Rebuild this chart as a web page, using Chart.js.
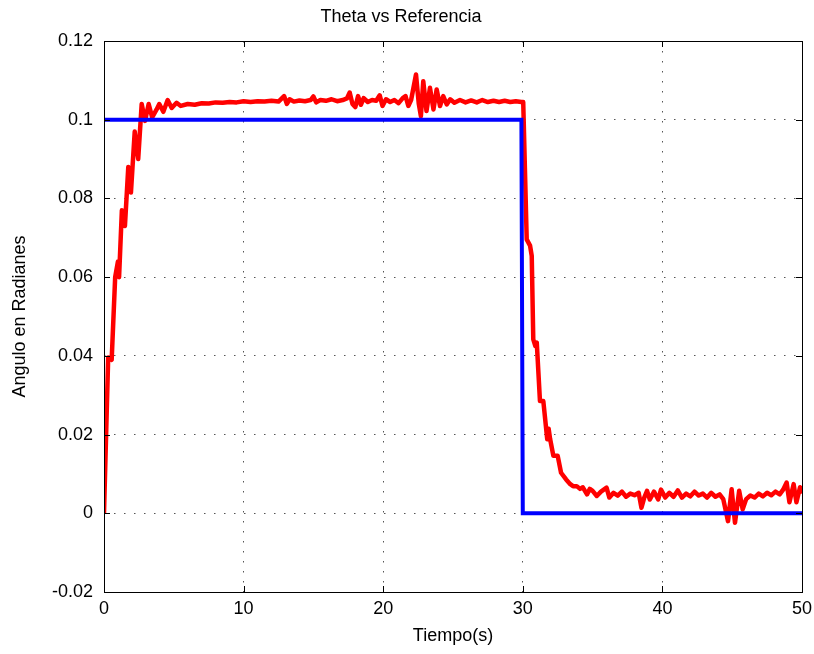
<!DOCTYPE html>
<html lang="es">
<head>
<meta charset="UTF-8">
<title>Theta vs Referencia</title>
<script src="https://cdn.jsdelivr.net/npm/chart.js"></script>
<style>
  body { margin: 0; background: #fff; }
  #wrap { width: 814px; height: 654px; }
</style>
</head>
<body>
<div id="wrap"><canvas id="chart" width="814" height="654"></canvas></div>
<script>
// reference step (blue)
const refTime = [0, 29.9, 30.0, 50];
const refValue = [0.1, 0.1, 0, 0];

const thetaTime = [
  0, 0.3, 0.55, 0.8, 1.0, 1.08, 1.28, 1.5, 1.74, 1.93, 2.2, 2.45, 2.7, 2.94, 3.2, 3.45, 3.77, 3.96, 4.25, 4.56, 4.85, 5.2,
  5.5, 6.0, 6.5, 7.0, 7.5, 8.0, 8.5, 9.0, 9.5, 10.0, 10.5, 11.0, 11.5, 12.0, 12.5, 12.9, 13.1, 13.3, 13.6, 14.0, 14.4, 14.8,
  15.0, 15.2, 15.5, 15.9, 16.3, 16.7, 17.1, 17.4, 17.6, 17.8, 18.0, 18.2, 18.4, 18.6, 18.9, 19.2, 19.5, 19.75, 19.95,
  20.2, 20.5, 20.8, 21.1, 21.4, 21.6, 21.8, 22.0, 22.35, 22.55, 22.7, 22.87, 23.1, 23.35, 23.6, 23.83, 24.07, 24.3, 24.55,
  24.8, 25.1, 25.5, 25.9, 26.3, 26.7, 27.1, 27.5, 27.9, 28.3, 28.7, 29.1, 29.5, 29.9, 30.03,
  30.28, 30.52, 30.64, 30.75, 30.9, 31.0, 31.23, 31.47, 31.75, 31.85, 31.95, 32.19, 32.5, 32.74, 33.1, 33.4, 33.6, 33.86,
  34.1, 34.3, 34.6, 34.8, 35.0, 35.3, 35.6, 36.0, 36.2, 36.5, 36.8, 37.1, 37.4, 37.7, 38.0, 38.3, 38.5, 38.7, 38.9, 39.1,
  39.4, 39.7, 39.9, 40.2, 40.5, 40.8, 41.1, 41.4, 41.7, 42.0, 42.3, 42.6, 42.9, 43.2, 43.5, 43.8, 44.1, 44.36, 44.7, 44.96,
  45.2, 45.5, 45.75, 46.0, 46.3, 46.6, 46.9, 47.2, 47.5, 47.8, 48.1, 48.4, 48.65, 48.9, 49.1, 49.4, 49.6, 49.86, 50.0
];
const thetaValue = [
  0, 0.0396, 0.039, 0.060, 0.064, 0.060, 0.077, 0.073, 0.088, 0.0815, 0.097, 0.090, 0.104, 0.0997, 0.104, 0.1006, 0.1026, 0.104, 0.102, 0.105, 0.103, 0.1043,
  0.1035, 0.1040, 0.1038, 0.1042, 0.1041, 0.1044, 0.1043, 0.1045, 0.1044, 0.1047, 0.1045, 0.1047, 0.1046, 0.1048, 0.1046, 0.1060, 0.1040, 0.1052, 0.1046, 0.1049, 0.1047, 0.1050,
  0.1059, 0.1044, 0.1050, 0.1048, 0.1052, 0.1047, 0.1050, 0.1054, 0.1069, 0.1040, 0.1032, 0.1060, 0.1038, 0.1055, 0.1045, 0.1050, 0.1048, 0.1062, 0.1035,
  0.1052, 0.1045, 0.1050, 0.1042, 0.1055, 0.1060, 0.1035, 0.1050, 0.1115, 0.1040, 0.1009, 0.1098, 0.1022, 0.1081, 0.1026, 0.1077, 0.1035, 0.1060, 0.1039,
  0.1052, 0.1043, 0.1050, 0.1044, 0.1049, 0.1044, 0.1050, 0.1045, 0.1048, 0.1045, 0.1048, 0.1045, 0.1047, 0.1045, 0.1045,
  0.0696, 0.068, 0.0654, 0.0442, 0.0425, 0.0434, 0.0285, 0.0285, 0.0188, 0.0215, 0.019, 0.0146, 0.0146, 0.0103, 0.0086, 0.0074, 0.0069, 0.0069,
  0.0062, 0.0066, 0.0048, 0.0062, 0.0057, 0.0044, 0.0055, 0.0065, 0.0040, 0.0052, 0.0045, 0.0055, 0.0042, 0.0050, 0.0046, 0.0052, 0.0014, 0.0040, 0.0057, 0.0035,
  0.0055, 0.0035, 0.0060, 0.0040, 0.0052, 0.0042, 0.0058, 0.0040, 0.0050, 0.0043, 0.0055, 0.0045, 0.0050, 0.0040, 0.0052, 0.0042, 0.0048, 0.0036, -0.0020, 0.0061,
  -0.0024, 0.0057, 0.0010, 0.0036, 0.0045, 0.0040, 0.0050, 0.0043, 0.0052, 0.0046, 0.0055, 0.0048, 0.0060, 0.0078, 0.0028, 0.0074, 0.0028, 0.0066, 0.0050
];

const xTicks = [0, 10, 20, 30, 40, 50];
const yTicks = [-0.02, 0, 0.02, 0.04, 0.06, 0.08, 0.1, 0.12];

const FONT = "'Liberation Sans', Arial, Helvetica, sans-serif";

const toPoints = (xs, ys) => xs.map((x, i) => ({ x: x, y: ys[i] }));

// MATLAB-like box with small inward ticks on all four sides
const boxPlugin = {
  id: 'box',
  afterDraw(chart) {
    const { ctx, chartArea: a, scales } = chart;
    ctx.save();
    ctx.strokeStyle = '#000';
    ctx.lineWidth = 1;
    ctx.strokeRect(a.left + 0.5, a.top + 0.5, a.right - a.left, a.bottom - a.top);
    ctx.beginPath();
    xTicks.forEach(v => {
      const px = Math.round(scales.x.getPixelForValue(v)) + 0.5;
      ctx.moveTo(px, a.top); ctx.lineTo(px, a.top + 6);
      ctx.moveTo(px, a.bottom); ctx.lineTo(px, a.bottom - 6);
    });
    yTicks.forEach(v => {
      const py = Math.round(scales.y.getPixelForValue(v)) + 0.5;
      ctx.moveTo(a.left, py); ctx.lineTo(a.left + 6, py);
      ctx.moveTo(a.right, py); ctx.lineTo(a.right - 6, py);
    });
    ctx.stroke();
    ctx.restore();
  }
};

const chart = new Chart(document.getElementById('chart'), {
  type: 'scatter',
  data: {
    datasets: [
      // first dataset is drawn last, so the reference sits on top like in the original
      { label: 'Referencia', data: toPoints(refTime, refValue), showLine: true, borderColor: '#0000ff', borderWidth: 4, pointRadius: 0, tension: 0 },
      { label: 'Theta', data: toPoints(thetaTime, thetaValue), showLine: true, borderColor: '#ff0000', borderWidth: 4.5, pointRadius: 0, tension: 0, borderJoinStyle: 'round' }
    ]
  },
  options: {
    responsive: false,
    animation: false,
    devicePixelRatio: 1,
    layout: { padding: { left: 0, right: 12, top: 0, bottom: 0 } },
    plugins: {
      legend: { display: false },
      tooltip: { enabled: false },
      title: {
        display: true,
        text: 'Theta vs Referencia',
        color: '#000',
        font: { family: FONT, size: 18, weight: 'normal' },
        padding: { top: 6, bottom: 13.4 }
      }
    },
    scales: {
      x: {
        type: 'linear',
        min: 0, max: 50,
        afterBuildTicks: s => { s.ticks = xTicks.map(v => ({ value: v })); },
        afterFit: s => { s.height = 62; s.paddingLeft = 0; s.paddingRight = 0; },
        ticks: { color: '#000', padding: 6, font: { family: FONT, size: 18 }, maxRotation: 0 },
        grid: { color: '#555', lineWidth: 1, drawTicks: false },
        border: { display: false, dash: [1.5, 8.5] },
        title: { display: true, text: 'Tiempo(s)', color: '#000', font: { family: FONT, size: 18 }, padding: { bottom: 7 } }
      },
      y: {
        min: -0.02, max: 0.12,
        afterBuildTicks: s => { s.ticks = yTicks.map(v => ({ value: v })); },
        afterFit: s => { s.width = 104; },
        ticks: { color: '#000', padding: 11, font: { family: FONT, size: 18 }, callback: v => String(+v.toFixed(2)) },
        grid: { color: '#555', lineWidth: 1, drawTicks: false },
        border: { display: false, dash: [1.5, 8.5] },
        title: { display: true, text: 'Angulo en Radianes', color: '#000', font: { family: FONT, size: 18 }, padding: { top: 9 } }
      }
    }
  },
  plugins: [boxPlugin]
});
</script>
</body>
</html>
